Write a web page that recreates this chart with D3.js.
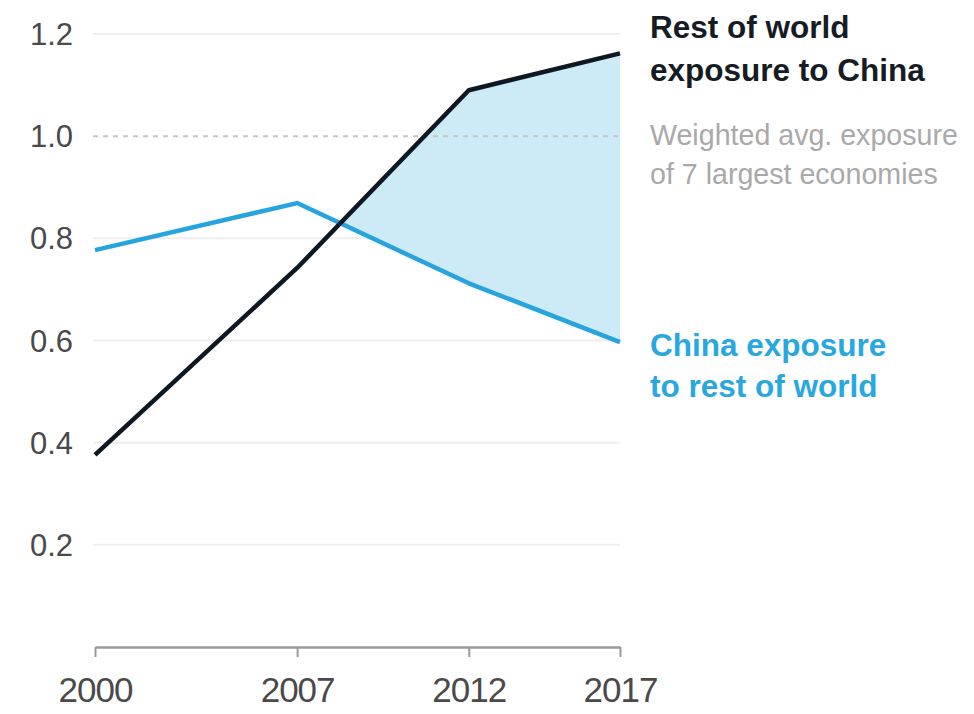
<!DOCTYPE html>
<html>
<head>
<meta charset="utf-8">
<script src="https://cdn.jsdelivr.net/npm/d3@7"></script>
<style>
  html, body { margin: 0; padding: 0; background: #fff; }
  svg { display: block; }
</style>
</head>
<body>
<svg id="chart" width="974" height="714"></svg>
<script>
// ---- data ----
const years = [2000, 2007, 2012, 2017];
const restOfWorldExposure = [0.376, 0.742, 1.09, 1.162];
const chinaExposure = [0.777, 0.869, 0.712, 0.597];
const yTicks = [0.2, 0.4, 0.6, 0.8, 1.0, 1.2];
const yTickLabels = ["0.2", "0.4", "0.6", "0.8", "1.0", "1.2"];
const xTickLabels = ["2000", "2007", "2012", "2017"];
const referenceValue = 1.0;
const labelRest = ["Rest of world", "exposure to China"];
const labelAvg = ["Weighted avg. exposure", "of 7 largest economies"];
const labelChina = ["China exposure", "to rest of world"];

// ---- layout ----
const W = 974, H = 714;
const plot = { left: 95, right: 620, top: 34, bottom: 647 };
const yearFractions = [0, 0.385, 0.712, 1]; // uneven spacing used by the original

const svg = d3.select("#chart");

const x = d3.scaleLinear()
  .domain(years)
  .range(yearFractions.map(f => plot.left + f * (plot.right - plot.left)));
const y = d3.scaleLinear().domain([0, 1.2]).range([plot.bottom, plot.top]);

const FONT = "'Liberation Sans', Arial, Helvetica, sans-serif";

// gridlines
svg.append("g").selectAll("line")
  .data(yTicks.filter(t => t !== referenceValue))
  .join("line")
  .attr("x1", plot.left - 2).attr("x2", plot.right)
  .attr("y1", d => y(d)).attr("y2", d => y(d))
  .attr("stroke", "#eeeeee").attr("stroke-width", 2);

// y axis labels
const yAxis = d3.axisLeft(y).tickValues(yTicks)
  .tickFormat((d, i) => yTickLabels[i]).tickSize(0).tickPadding(0);
const gy = svg.append("g").attr("transform", `translate(${plot.left - 22},0)`).call(yAxis);
gy.select(".domain").remove();
gy.selectAll("text")
  .attr("font-family", FONT).attr("font-size", 31).attr("fill", "#4a4a4a")
  .attr("dy", "0.34em");

// shaded area where rest-of-world > china
const rows = years.map((yr, i) => ({ year: yr, a: restOfWorldExposure[i], b: chinaExposure[i] }));
const areaPts = [];
for (let i = 0; i < rows.length - 1; i++) {
  const p = rows[i], q = rows[i + 1];
  const d0 = p.a - p.b, d1 = q.a - q.b;
  if (d0 >= 0) areaPts.push(p);
  if ((d0 < 0 && d1 > 0) || (d0 > 0 && d1 < 0)) {
    const t = d0 / (d0 - d1);
    const v = p.b + t * (q.b - p.b);
    areaPts.push({ year: p.year + t * (q.year - p.year), a: v, b: v });
  }
}
const last = rows[rows.length - 1];
if (last.a >= last.b) areaPts.push(last);

svg.append("path")
  .datum(areaPts)
  .attr("fill", "#cdebf7")
  .attr("d", d3.area().x(d => x(d.year)).y0(d => y(d.b)).y1(d => y(d.a)));

// reference dotted line (drawn over the shading)
svg.append("line")
  .attr("x1", plot.left - 2).attr("x2", plot.right)
  .attr("y1", y(referenceValue)).attr("y2", y(referenceValue))
  .attr("stroke", "#c4c4c4").attr("stroke-width", 2)
  .attr("stroke-dasharray", "5,5");

// baseline axis
const xAxis = d3.axisBottom(x).tickValues(years)
  .tickFormat((d, i) => xTickLabels[i]).tickSize(10).tickSizeOuter(0).tickPadding(20);
const gx = svg.append("g").attr("transform", `translate(0,${y(0)})`).call(xAxis);
gx.select(".domain").attr("stroke", "#9a9a9a").attr("stroke-width", 2.5);
gx.selectAll(".tick line").attr("stroke", "#9a9a9a").attr("stroke-width", 2);
gx.selectAll("text")
  .attr("font-family", FONT).attr("font-size", 35).attr("fill", "#4a4a4a")
  .attr("letter-spacing", -1);

// lines
const lineGen = key => d3.line().x(d => x(d.year)).y(d => y(d[key]));
svg.append("path").datum(rows)
  .attr("fill", "none").attr("stroke", "#27a4dd").attr("stroke-width", 4.5)
  .attr("stroke-linejoin", "round")
  .attr("d", lineGen("b"));
svg.append("path").datum(rows)
  .attr("fill", "none").attr("stroke", "#0e1722").attr("stroke-width", 4.5)
  .attr("stroke-linejoin", "round")
  .attr("d", lineGen("a"));

// annotations
const tx = plot.right + 30;
function label(lines, y0, dy, size, weight, color) {
  const t = svg.append("text")
    .attr("font-family", FONT).attr("font-size", size)
    .attr("font-weight", weight).attr("fill", color);
  lines.forEach((s, i) => t.append("tspan").attr("x", tx).attr("y", y0 + i * dy).text(s));
}
label(labelRest, 38, 43, 31.5, "bold", "#161c24");
label(labelAvg, 145, 39, 28.6, "normal", "#a9a9a9");
label(labelChina, 356, 41, 31.5, "bold", "#29a7df");
</script>
</body>
</html>
